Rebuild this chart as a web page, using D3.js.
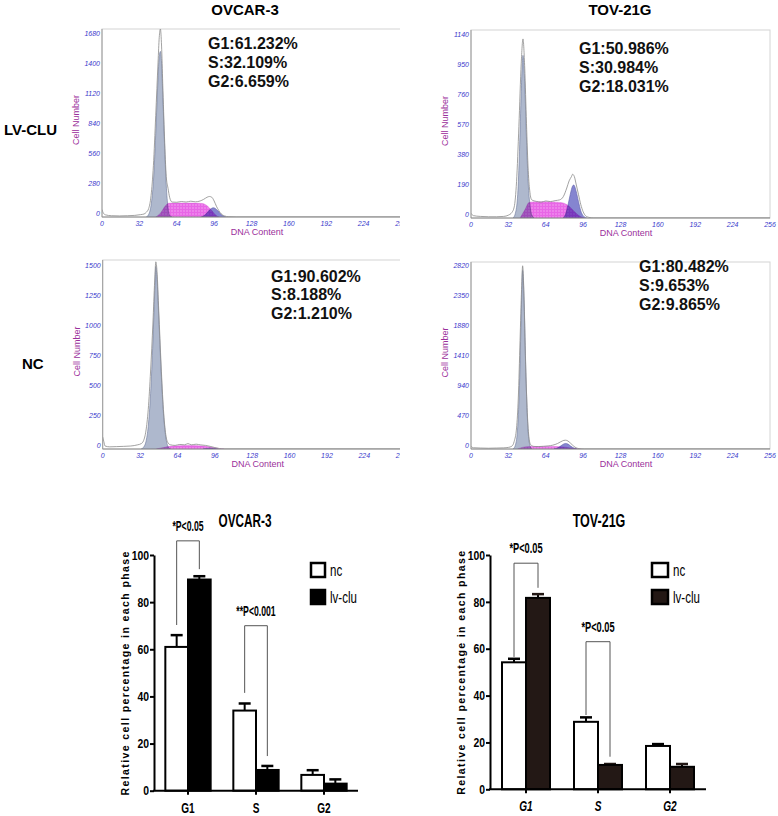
<!DOCTYPE html>
<html>
<head>
<meta charset="utf-8">
<script src="https://cdn.jsdelivr.net/npm/d3@7"></script>
<style>
  body { margin: 0; background: #fff; }
  svg { display: block; }
</style>
</head>
<body>
<div id="wrapper"></div>
<script>
/* ---------- data ---------- */
const cellLines = ["OVCAR-3", "TOV-21G"];
const rowLabels = ["LV-CLU", "NC"];
const dnaTicks = [0, 32, 64, 96, 128, 160, 192, 224, 256];

// ModFit histograms: [DNA channel, cell number]
const ovcarLvTicks = [0, 280, 560, 840, 1120, 1400, 1680];
const ovcarLvRaw = [[0,70],[1,40],[3,20],[8,12],[15,10],[22,12],[28,15],[33,22],[36,28],[38,45],[40,80],[42,200],[44,480],[46,950],[48,1450],[49,1680],[50,1760],[51,1600],[52,1250],[53.5,750],[55,380],[56.5,270],[58,180],[60,140],[64,138],[68,145],[72,140],[76,148],[80,142],[84,150],[87,165],[90,185],[92,192],[94,185],[96,150],[98,100],[100,60],[102,30],[105,10],[108,3],[115,0],[256,0]];
const ovcarLvG1 = [[38,0],[40,25],[42,110],[44,330],[46,780],[47.5,1180],[49,1500],[50,1550],[51,1440],[52,1150],[53.5,690],[55,300],[56.5,90],[58,15],[60,0]];
const ovcarLvS = [[46,0],[50,35],[54,100],[57,128],[64,130],[72,131],[80,130],[86,126],[90,105],[94,60],[97,20],[100,0]];
const ovcarLvG2 = [[85,0],[88,18],[90,40],[92,65],[94,82],[95.5,86],[97,80],[99,60],[101,35],[103,15],[106,0]];
const ovcarLvText = ["G1:61.232%", "S:32.109%", "G2:6.659%"];

const tovLvTicks = [0, 190, 380, 570, 760, 950, 1140];
const tovLvRaw = [[0,30],[2,15],[8,10],[15,8],[22,8],[28,10],[32,18],[35,35],[37,70],[39,230],[41,580],[43,980],[44.5,1134],[46,950],[47.5,600],[49,300],[50.5,160],[52,115],[56,105],[60,100],[64,108],[68,104],[72,110],[76,115],[79,135],[82,190],[84,235],[86,262],[87,277],[88.5,262],[90,215],[92,150],[94,85],[96,40],[98,15],[101,4],[105,0],[256,0]];
const tovLvG1 = [[36,0],[38,30],[40,150],[41.5,420],[43,800],[44.5,1030],[46,850],[47.5,500],[49,220],[50.5,80],[52,20],[54,0]];
const tovLvS = [[42,0],[46,50],[50,100],[60,103],[70,102],[78,97],[82,85],[86,60],[90,30],[94,8],[97,0]];
const tovLvG2 = [[79,0],[81,25],[83,80],[85,150],[87,203],[88,209],[90,170],[92,105],[94,45],[96,15],[99,0]];
const tovLvText = ["G1:50.986%", "S:30.984%", "G2:18.031%"];

const ovcarNcTicks = [0, 250, 500, 750, 1000, 1250, 1500];
const ovcarNcRaw = [[0,100],[1,60],[2,25],[6,18],[12,20],[18,22],[24,25],[30,35],[33,45],[35,70],[37,150],[39,330],[41,650],[43,1050],[44.5,1400],[45.5,1560],[46.5,1480],[48,1150],[50,700],[52,330],[54,120],[56,50],[58,35],[62,30],[66,38],[70,35],[73,45],[76,35],[80,40],[84,34],[88,30],[92,22],[96,12],[100,4],[104,0],[256,0]];
const ovcarNcG1 = [[33,0],[35,15],[37,60],[39,190],[41,460],[43,900],[44.5,1300],[45.5,1520],[46.5,1420],[48,1100],[50,650],[52,300],[54,100],[56,20],[58,0]];
const ovcarNcS = [[46,0],[52,12],[58,22],[66,28],[74,30],[82,28],[88,22],[94,12],[100,3],[104,0]];
const ovcarNcG2 = [[86,0],[89,4],[92,7],[95,5],[99,0]];
const ovcarNcText = ["G1:90.602%", "S:8.188%", "G2:1.210%"];

const tovNcTicks = [0, 470, 940, 1410, 1880, 2350, 2820];
const tovNcRaw = [[0,40],[2,20],[8,15],[15,12],[22,15],[28,18],[32,25],[35,45],[37,120],[39,330],[40.5,800],[42,1700],[43.3,2500],[44.2,2870],[45.2,2500],[46.5,1500],[48,650],[49.5,200],[51,70],[54,40],[58,38],[62,42],[66,48],[70,60],[74,85],[77,115],[79.5,135],[81,138],[83,125],[85,95],[87,60],[89,30],[91,12],[94,3],[97,0],[256,0]];
const tovNcG1 = [[36,0],[38,60],[40,350],[41.5,1000],[43,2100],[44.2,2800],[45.5,2300],[47,1200],[48.5,400],[50,90],[52,0]];
const tovNcS = [[40,0],[44,25],[48,36],[55,38],[62,40],[70,40],[76,35],[82,25],[87,12],[91,3],[94,0]];
const tovNcG2 = [[71,0],[74,15],[77,50],[79,75],[81,87],[83,78],[85,50],[87,25],[89,8],[91,0]];
const tovNcText = ["G1:80.482%", "S:9.653%", "G2:9.865%"];

// bar charts: relative cell percentage in each phase
const phases = ["G1", "S", "G2"];
const groups = ["nc", "lv-clu"];
const barTicks = [0, 20, 40, 60, 80, 100];
const ovcarNc = [61, 34, 6.7];
const ovcarNcErr = [5, 3, 2];
const ovcarLv = [89.6, 8.8, 3];
const ovcarLvErr = [1.4, 1.7, 1.8];
const ovcarSig = [
  {phase: "G1", label: "*P<0.05", top: 106, legL: 70.3, legR: 94},
  {phase: "S", label: "**P<0.001", top: 70, legL: 41.5, legR: 14.7}
];
const tovNc = [54.2, 28.8, 18.5];
const tovNcErr = [1.5, 1.9, 0.8];
const tovLv = [81.7, 10.4, 9.6];
const tovLvErr = [1.6, 0.4, 1.2];
const tovSig = [
  {phase: "G1", label: "*P<0.05", top: 96.5, legL: 56.5, legR: 86},
  {phase: "S", label: "*P<0.05", top: 63, legL: 31.7, legR: 13.9}
];

/* ---------- canvas ---------- */
const W = 778, H = 816;
const svg = d3.select("#wrapper").append("svg")
  .attr("width", W).attr("height", H)
  .style("font-family", "'Liberation Sans', Arial, Helvetica, sans-serif");
svg.append("rect").attr("width", W).attr("height", H).attr("fill", "#fff");

const defs = svg.append("defs");
const pat = defs.append("pattern").attr("id", "sdots")
  .attr("width", 3).attr("height", 3).attr("patternUnits", "userSpaceOnUse");
pat.append("rect").attr("width", 3).attr("height", 3).attr("fill", "#e866e6");
pat.append("circle").attr("cx", 1).attr("cy", 1).attr("r", 0.7).attr("fill", "#f6b2f4");
defs.append("clipPath").attr("id", "leftcol")
  .append("rect").attr("x", 0).attr("y", 0).attr("width", 400).attr("height", 480);

/* column / row headings */
svg.selectAll(".coltitle").data(cellLines).join("text")
  .attr("x", (d, i) => [245, 620][i]).attr("y", 10).attr("dy", "0.35em")
  .attr("text-anchor", "middle").attr("font-size", 15).attr("font-weight", "bold")
  .text(d => d);
svg.selectAll(".rowtitle").data(rowLabels).join("text")
  .attr("x", (d, i) => [4, 22][i]).attr("y", (d, i) => [130, 364][i]).attr("dy", "0.35em")
  .attr("font-size", 15).attr("font-weight", "bold")
  .text(d => d);

/* ---------- histograms ---------- */
const histPanels = [
  {ticks: ovcarLvTicks, raw: ovcarLvRaw, g1: ovcarLvG1, s: ovcarLvS, g2: ovcarLvG2, text: ovcarLvText,
   left: 102, top: 29, base: 217, tickTop: 37.5, textX: 208, textY: 43.5, clip: true},
  {ticks: tovLvTicks, raw: tovLvRaw, g1: tovLvG1, s: tovLvS, g2: tovLvG2, text: tovLvText,
   left: 471, top: 30, base: 218, tickTop: 38, textX: 579, textY: 48.5, clip: false},
  {ticks: ovcarNcTicks, raw: ovcarNcRaw, g1: ovcarNcG1, s: ovcarNcS, g2: ovcarNcG2, text: ovcarNcText,
   left: 102.7, top: 260, base: 449, tickTop: 269, textX: 271, textY: 276, clip: true},
  {ticks: tovNcTicks, raw: tovNcRaw, g1: tovNcG1, s: tovNcS, g2: tovNcG2, text: tovNcText,
   left: 471, top: 262, base: 449, tickTop: 269, textX: 639, textY: 266.5, clip: false}
];

function drawHist(p, i) {
  const g = svg.append("g");
  if (p.clip) g.attr("clip-path", "url(#leftcol)");

  const x = d3.scaleLinear().domain([0, 256]).range([p.left, p.left + 299]);
  const y = d3.scaleLinear().domain([0, d3.max(p.ticks)]).range([p.base, p.tickTop]);
  const right = x(256);

  defs.append("clipPath").attr("id", "plot" + i)
    .append("rect").attr("x", p.left).attr("y", p.top)
    .attr("width", right - p.left).attr("height", p.base - p.top);

  // frame
  g.append("rect").attr("x", p.left).attr("y", p.top)
    .attr("width", right - p.left).attr("height", p.base - p.top)
    .attr("fill", "none").attr("stroke", "#d4d4d4").attr("stroke-width", 1);

  const plot = g.append("g").attr("clip-path", `url(#plot${i})`);
  const area = d3.area()
    .x(d => x(d[0])).y0(p.base).y1(d => y(d[1]))
    .curve(d3.curveMonotoneX);

  plot.append("path").datum(p.s).attr("d", area)
    .attr("fill", "url(#sdots)").attr("stroke", "#d060d0").attr("stroke-width", 0.4);
  plot.append("path").datum(p.g1).attr("d", area)
    .attr("fill", "#aeb8cd").attr("stroke", "#6a7699").attr("stroke-width", 0.6)
    .style("mix-blend-mode", "multiply");
  plot.append("path").datum(p.g2).attr("d", area)
    .attr("fill", "#8585d0").attr("stroke", "#5a5aa8").attr("stroke-width", 0.6)
    .style("mix-blend-mode", "multiply");

  const line = d3.line().x(d => x(d[0])).y(d => y(d[1])).curve(d3.curveMonotoneX);
  plot.append("path").datum(p.raw).attr("d", line)
    .attr("fill", "none").attr("stroke", "#8a8a8a").attr("stroke-width", 0.8);

  // axes
  g.append("line").attr("x1", p.left).attr("x2", p.left).attr("y1", p.top).attr("y2", p.base)
    .attr("stroke", "#9a9a9a");
  g.append("line").attr("x1", p.left).attr("x2", right).attr("y1", p.base).attr("y2", p.base)
    .attr("stroke", "#8a8a8a");

  g.selectAll(".yt").data(p.ticks).join("text")
    .attr("x", p.left - 2).attr("y", d => y(d) - 3.5).attr("dy", "0.35em")
    .attr("text-anchor", "end").attr("font-size", 7).attr("font-style", "italic")
    .attr("fill", "#3a3acc").text(d => d);
  g.selectAll(".xt").data(dnaTicks).join("text")
    .attr("x", d => x(d)).attr("y", p.base + 7).attr("dy", "0.35em")
    .attr("text-anchor", "middle").attr("font-size", 7).attr("font-style", "italic")
    .attr("fill", "#3a3acc").text(d => d);

  g.append("text")
    .attr("transform", `translate(${p.left - 26},${(p.top + p.base) / 2 - 3}) rotate(-90)`)
    .attr("text-anchor", "middle").attr("dy", "0.35em")
    .attr("font-size", 9).attr("fill", "#9b2f9b").text("Cell Number");
  g.append("text")
    .attr("x", p.left + 155).attr("y", p.base + 15).attr("dy", "0.35em")
    .attr("text-anchor", "middle").attr("font-size", 9).attr("fill", "#9b2f9b").text("DNA Content");

  g.selectAll(".ann").data(p.text).join("text")
    .attr("x", p.textX).attr("y", (d, k) => p.textY + k * 18.7).attr("dy", "0.35em")
    .attr("font-size", 16).attr("font-weight", "bold").attr("fill", "#111").text(d => d);
}
histPanels.forEach(drawHist);

/* ---------- bar charts ---------- */
function squeezed(sel, str, x, y, size, sx, anchor, weight, italic) {
  return sel.append("text")
    .attr("transform", `translate(${x},${y}) scale(${sx},1)`)
    .attr("text-anchor", anchor || "middle").attr("dy", "0.35em")
    .attr("font-size", size).attr("font-weight", weight || "bold")
    .attr("font-style", italic ? "italic" : "normal")
    .text(str);
}

const barCharts = [
  {title: "OVCAR-3", nc: ovcarNc, ncErr: ovcarNcErr, lv: ovcarLv, lvErr: ovcarLvErr, sig: ovcarSig,
   left: 154, right: 358, base: 790.7, top100: 555, lvFill: "#000", italic: false,
   titleX: 245, legendX: 311, legendW: 14, ylabelX: 125, sx: 0.62},
  {title: "TOV-21G", nc: tovNc, ncErr: tovNcErr, lv: tovLv, lvErr: tovLvErr, sig: tovSig,
   left: 490, right: 706, base: 789.3, top100: 555, lvFill: "#231815", italic: true,
   titleX: 599, legendX: 652, legendW: 16, ylabelX: 461, sx: 0.66}
];

function drawBars(c) {
  const g = svg.append("g");
  const x0 = d3.scaleBand().domain(phases).range([c.left, c.right])
    .paddingInner(1 / 3).paddingOuter(1 / 6);
  const x1 = d3.scaleBand().domain(groups).range([0, x0.bandwidth()]);
  const y = d3.scaleLinear().domain([0, 100]).range([c.base, c.top100]);
  const bw = x1.bandwidth();
  const cx = (ph, grp) => x0(ph) + x1(grp) + bw / 2;

  const rows = phases.flatMap((ph, i) => [
    {ph, grp: "nc", v: c.nc[i], e: c.ncErr[i]},
    {ph, grp: "lv-clu", v: c.lv[i], e: c.lvErr[i]}
  ]);

  // error bars (upper only)
  g.selectAll(".eb").data(rows).join("line")
    .attr("x1", d => cx(d.ph, d.grp)).attr("x2", d => cx(d.ph, d.grp))
    .attr("y1", d => y(d.v)).attr("y2", d => y(d.v + d.e))
    .attr("stroke", "#000").attr("stroke-width", 2);
  g.selectAll(".cap").data(rows).join("line")
    .attr("x1", d => cx(d.ph, d.grp) - 6).attr("x2", d => cx(d.ph, d.grp) + 6)
    .attr("y1", d => y(d.v + d.e)).attr("y2", d => y(d.v + d.e))
    .attr("stroke", d => d.grp === "nc" ? "#000" : c.lvFill).attr("stroke-width", 2.5);

  g.selectAll(".bar").data(rows).join("rect")
    .attr("x", d => x0(d.ph) + x1(d.grp)).attr("y", d => y(d.v))
    .attr("width", bw).attr("height", d => c.base - y(d.v))
    .attr("fill", d => d.grp === "nc" ? "#fff" : c.lvFill)
    .attr("stroke", "#000").attr("stroke-width", 2);

  // y axis
  const yAxis = g.append("g").attr("transform", `translate(${c.left},0)`)
    .call(d3.axisLeft(y).tickValues(barTicks).tickSize(4).tickSizeOuter(0));
  yAxis.attr("font-family", null).attr("font-size", null);
  yAxis.select(".domain").attr("stroke-width", 2);
  yAxis.selectAll(".tick line").attr("stroke-width", 2);
  yAxis.selectAll(".tick text")
    .attr("x", -5 / 0.8).attr("transform", "scale(0.8,1)")
    .attr("font-size", 13).attr("font-weight", "bold").attr("fill", "#000");

  // x axis
  g.append("line").attr("x1", c.left - 1).attr("x2", c.right).attr("y1", c.base).attr("y2", c.base)
    .attr("stroke", "#000").attr("stroke-width", 2);
  g.selectAll(".xtick").data(phases).join("line")
    .attr("x1", d => x0(d) + x0.bandwidth() / 2).attr("x2", d => x0(d) + x0.bandwidth() / 2)
    .attr("y1", c.base).attr("y2", c.base + 4)
    .attr("stroke", "#000").attr("stroke-width", 2);
  phases.forEach(ph => squeezed(g, ph, x0(ph) + x0.bandwidth() / 2, c.base + 17, 14, 0.72, "middle", "bold", c.italic));

  // y label
  g.append("text")
    .attr("transform", `translate(${c.ylabelX},${(c.base + c.top100) / 2}) rotate(-90)`)
    .attr("text-anchor", "middle").attr("dy", "0.35em")
    .attr("font-size", 10.5).attr("font-weight", "bold").attr("letter-spacing", 1.4)
    .text("Relative cell percentage in each phase");

  // title
  squeezed(g, c.title, c.titleX, 520, 19, c.sx, "middle", "bold");

  // significance brackets
  c.sig.forEach(s => {
    const xl = cx(s.phase, "nc"), xr = cx(s.phase, "lv-clu");
    g.append("path")
      .attr("d", `M${xl},${y(s.legL)}V${y(s.top)}H${xr}V${y(s.legR)}`)
      .attr("fill", "none").attr("stroke", "#555").attr("stroke-width", 1);
    squeezed(g, s.label, (xl + xr) / 2, y(s.top) - 15, 14, c.sx, "middle", "bold");
  });

  // legend
  groups.forEach((grp, k) => {
    const ly = [570, 597][k];
    g.append("rect")
      .attr("x", c.legendX).attr("y", ly - 7).attr("width", c.legendW).attr("height", 14)
      .attr("fill", grp === "nc" ? "#fff" : c.lvFill)
      .attr("stroke", "#000").attr("stroke-width", 2.5);
    squeezed(g, grp, c.legendX + c.legendW + 5, ly, 16, 0.72, "start", "normal");
  });
}
barCharts.forEach(drawBars);
</script>
</body>
</html>
